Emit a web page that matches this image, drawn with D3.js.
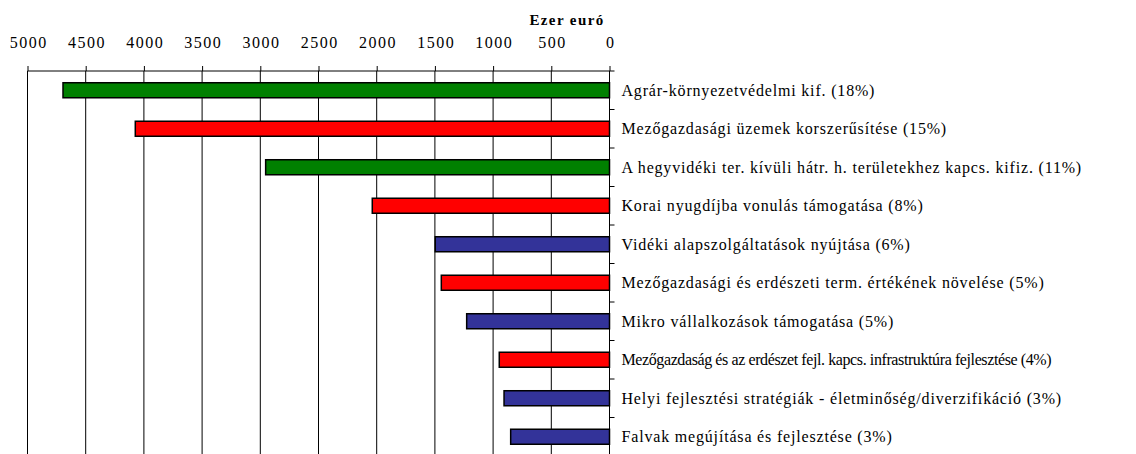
<!DOCTYPE html>
<meta charset="utf-8">
<script src="https://d3js.org/d3.v7.min.js"></script>
<style>
  body { margin: 0; background: #fff; }
</style>
<div id="chart"></div>
<script>

// measures, in thousand euro
const categories = [
    "Agrár-környezetvédelmi kif. (18%)",
    "Mezőgazdasági üzemek korszerűsítése (15%)",
    "A hegyvidéki ter. kívüli hátr. h. területekhez kapcs. kifiz. (11%)",
    "Korai nyugdíjba vonulás támogatása (8%)",
    "Vidéki alapszolgáltatások nyújtása (6%)",
    "Mezőgazdasági és erdészeti term. értékének növelése (5%)",
    "Mikro vállalkozások támogatása (5%)",
    "Mezőgazdaság és az erdészet fejl. kapcs. infrastruktúra fejlesztése (4%)",
    "Helyi fejlesztési stratégiák - életminőség/diverzifikáció (3%)",
    "Falvak megújítása és fejlesztése (3%)"
];
const values = [4695, 4074, 2954, 2038, 1497, 1445, 1227, 947, 906, 849];
const groups = ["axis1", "axis1b", "axis1", "axis1b", "axis3", "axis1b", "axis3", "axis1b", "axis3", "axis3"];
const ticks = [5000, 4500, 4000, 3500, 3000, 2500, 2000, 1500, 1000, 500, 0];

const W = 1136, H = 454;
const mLeft = 27.5, mRight = 609.5, mTop = 71, mBottom = 456;
const maxLabel = 470; // long labels get a tighter setting
const serif = "'Liberation Serif', 'Times New Roman', Times, serif";

// colour per group (green / red / blue)
const color = d3.scaleOrdinal()
    .domain(["axis1", "axis1b", "axis3"])
    .range(["#008000", "#ff0000", "#333399"]);

const svg = d3.select("#chart").append("svg")
    .attr("width", W)
    .attr("height", H)
    .attr("font-family", serif);

const x = d3.scaleLinear().domain([5000, 0]).range([mLeft, mRight]);
const y = d3.scaleBand().domain(categories).range([mTop, mBottom]).paddingInner(0.61).paddingOuter(0.305);

// gridlines
svg.append("g")
    .selectAll("line")
    .data(ticks)
    .join("line")
    .attr("x1", d => x(d)).attr("x2", d => x(d))
    .attr("y1", mTop).attr("y2", mBottom)
    .attr("stroke", "#000").attr("stroke-width", 1);

// top axis
const xAxis = svg.append("g")
    .attr("transform", `translate(0,${mTop})`)
    .call(d3.axisTop(x).tickValues(ticks).tickSize(5).tickPadding(18).tickFormat(d3.format("d")));
xAxis.attr("font-family", serif).attr("font-size", 16);
xAxis.select(".domain").attr("d", `M${mLeft},0H${mRight + 5}`);
xAxis.selectAll("text").style("letter-spacing", "1.5px").attr("dx", "0.75px");

svg.append("text")
    .attr("x", 567)
    .attr("y", 25)
    .attr("text-anchor", "middle")
    .attr("font-size", 15)
    .attr("font-weight", "bold")
    .style("letter-spacing", "1.4px")
    .text("Ezer euró");

// bars
svg.append("g")
    .selectAll("rect")
    .data(values)
    .join("rect")
    .attr("x", d => x(d))
    .attr("y", (d, i) => y(categories[i]))
    .attr("width", d => x(0) - x(d))
    .attr("height", y.bandwidth())
    .attr("fill", (d, i) => color(groups[i]))
    .attr("stroke", "#000")
    .attr("stroke-width", 1.5);

// category axis at 0
const yAxis = svg.append("g")
    .attr("transform", `translate(${mRight},0)`);
yAxis.append("line")
    .attr("x1", 0).attr("x2", 0).attr("y1", mTop).attr("y2", mBottom)
    .attr("stroke", "#000");
yAxis.selectAll(".sep")
    .data(d3.range(1, categories.length))
    .join("line")
    .attr("class", "sep")
    .attr("x1", 0).attr("x2", 5)
    .attr("y1", i => mTop + i * y.step()).attr("y2", i => mTop + i * y.step())
    .attr("stroke", "#000");

yAxis.selectAll(".lbl")
    .data(categories)
    .join("text")
    .attr("class", "lbl")
    .attr("x", 12)
    .attr("y", d => y(d) + y.bandwidth() / 2)
    .attr("dy", "0.35em")
    .attr("font-size", 16)
    .style("letter-spacing", "0.82px")
    .text(d => d)
    .each(function() {
        // tighten the labels that run too long (like the source does)
        if (this.getComputedTextLength() > maxLabel) {
            d3.select(this).style("letter-spacing", "-0.4px");
        }
    });

</script>
